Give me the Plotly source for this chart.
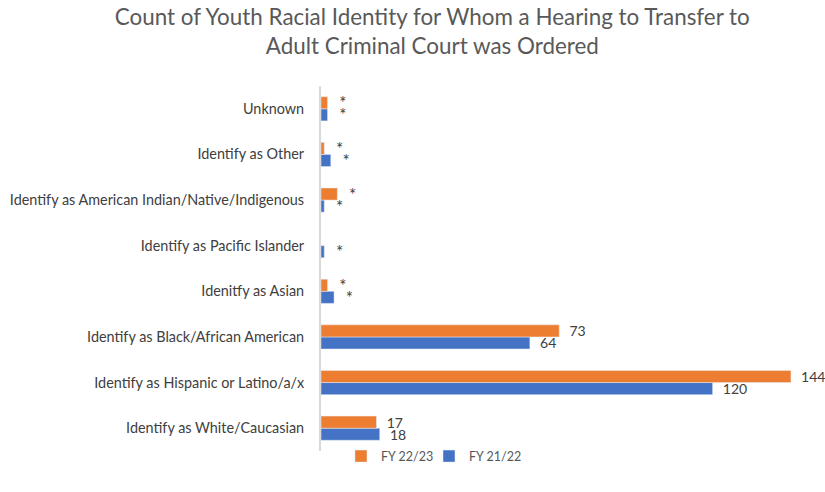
import plotly.graph_objects as go

# Categories listed bottom-to-top as drawn
categories = [
    "Identify as White/Caucasian",
    "Identify as Hispanic or Latino/a/x",
    "Identify as Black/African American",
    "Idenitfy as Asian",
    "Identify as Pacific Islander",
    "Identify as American Indian/Native/Indigenous",
    "Identify as Other",
    "Unknown",
]
fy2122_values = [18, 120, 64, 4, 1, 1, 3, 2]
fy2122_labels = ["18", "120", "64", "*", "*", "*", "*", "*"]
fy2223_values = [17, 144, 73, 2, None, 5, 1, 2]
fy2223_labels = ["17", "144", "73", "*", "", "*", "*", "*"]

BLUE = "#4472C4"
ORANGE = "#ED7D31"
NB = "\u00a0\u00a0"


def label_text(labels):
    return [NB + t if t else "" for t in labels]


def label_sizes(labels):
    return [17 if t == "*" else 14 for t in labels]


fig = go.Figure()
fig.add_trace(go.Bar(
    y=categories, x=fy2122_values, orientation="h", name="FY 21/22",
    marker=dict(color=BLUE), legend="legend2", showlegend=True,
    text=label_text(fy2122_labels),
    textposition="outside", cliponaxis=False, constraintext="none",
    textfont=dict(family="Lato", size=label_sizes(fy2122_labels), color="#404040"),
))
fig.add_trace(go.Bar(
    y=categories, x=fy2223_values, orientation="h", name="FY 22/23",
    marker=dict(color=ORANGE), legend="legend", showlegend=True,
    text=label_text(fy2223_labels),
    textposition="outside", cliponaxis=False, constraintext="none",
    textfont=dict(family="Lato", size=label_sizes(fy2223_labels), color="#404040"),
))

legend_common = dict(orientation="h", xref="container", xanchor="left",
                     y=-0.015, yanchor="middle", bgcolor="rgba(0,0,0,0)",
                     font=dict(family="Lato", size=12.5, color="#595959"))

fig.update_layout(
    width=825, height=492,
    paper_bgcolor="white", plot_bgcolor="white",
    showlegend=True,
    barmode="group", bargap=0.47, bargroupgap=0,
    margin=dict(l=321, r=21, t=86, b=41, autoexpand=False),
    title=dict(
        text="Count of Youth Racial Identity for Whom a Hearing to Transfer to<br>Adult Criminal Court was Ordered",
        x=0.524, xref="container", xanchor="center",
        y=0.949, yref="container", yanchor="top",
        font=dict(family="Lato", size=22.4, color="#595959"),
    ),
    xaxis=dict(range=[0, 148], showticklabels=False, showgrid=False,
               zeroline=False, showline=False, fixedrange=True, automargin=False),
    yaxis=dict(showline=True, linecolor="#d9d9d9", linewidth=2,
               ticks="", showgrid=False, automargin=False, ticklabelstandoff=12,
               tickfont=dict(family="Lato", size=14.4, color="#404040")),
    legend=dict(x=0.4133, **legend_common),
    legend2=dict(x=0.52, **legend_common),
    font=dict(family="Lato"),
)

fig.write_html("out.html", post_script="document.body.style.margin='0';",
               config={"displayModeBar": False})
